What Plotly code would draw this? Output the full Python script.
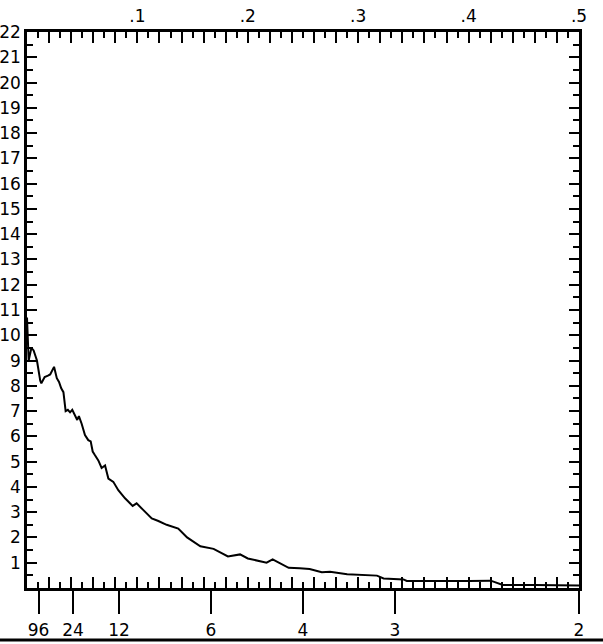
import plotly.graph_objects as go

# Spectrum estimate: frequency (cycles per unit) vs spectral density
freq = [0.000, 0.0015, 0.004, 0.006, 0.009, 0.010, 0.012, 0.013, 0.016, 0.019,
        0.021, 0.0245, 0.027, 0.029, 0.031, 0.033, 0.035, 0.037, 0.039, 0.041,
        0.0435, 0.0455, 0.047, 0.0495, 0.0525, 0.0555, 0.0577, 0.0595, 0.0616,
        0.0646, 0.0676, 0.0707, 0.0737, 0.0782, 0.0827, 0.0888, 0.0957, 0.0993,
        0.105, 0.113, 0.119, 0.1265, 0.137, 0.145, 0.157, 0.169, 0.182, 0.193,
        0.200, 0.208, 0.217, 0.2225, 0.229, 0.237, 0.247, 0.256, 0.267, 0.2745,
        0.290, 0.317, 0.323, 0.341, 0.344, 0.365, 0.400, 0.420, 0.423, 0.431,
        0.460, 0.500]
spec = [10.7, 9.0, 9.5, 9.4, 9.0, 8.7, 8.2, 8.1, 8.35, 8.4,
        8.45, 8.75, 8.3, 8.15, 7.9, 7.75, 7.0, 7.05, 6.95, 7.05,
        6.85, 6.65, 6.8, 6.5, 6.05, 5.85, 5.8, 5.4, 5.25,
        5.05, 4.75, 4.85, 4.33, 4.2, 3.87, 3.55, 3.25, 3.35,
        3.1, 2.75, 2.65, 2.5, 2.35, 2.0, 1.65, 1.55, 1.25, 1.33,
        1.17, 1.1, 1.0, 1.13, 0.97, 0.8, 0.78, 0.75, 0.62, 0.64,
        0.54, 0.49, 0.38, 0.34, 0.28, 0.27, 0.28, 0.29, 0.25, 0.12,
        0.12, 0.10]

# Bottom axis: periods
periods = [96, 24, 12, 6, 4, 3, 2]
period_labels = ["96", "24", "12", "6", "4", "3", "2"]

# Top axis: frequency labels
top_labels = {0.1: ".1", 0.2: ".2", 0.3: ".3", 0.4: ".4", 0.5: ".5"}

# Left axis labels
y_labels = [str(i) if i > 0 else "" for i in range(0, 23)]

top_vals = [round(0.02 * k, 2) for k in range(0, 26)]
top_text = [top_labels.get(v, "") for v in top_vals]

font = dict(family="DejaVu Sans", size=17, color="black")

fig = go.Figure()
fig.add_trace(go.Scatter(x=freq, y=spec, mode="lines",
                         line=dict(color="black", width=2),
                         showlegend=False, hoverinfo="skip"))
# invisible traces to activate overlay axes
fig.add_trace(go.Scatter(x=[0], y=[0], xaxis="x2", yaxis="y2", mode="markers",
                         marker=dict(opacity=0), showlegend=False, hoverinfo="skip"))
fig.add_trace(go.Scatter(x=[0], y=[0], xaxis="x3", yaxis="y", mode="markers",
                         marker=dict(opacity=0), showlegend=False, hoverinfo="skip"))

tick_common = dict(tickwidth=1.5, tickcolor="black", showgrid=False,
                   zeroline=False, automargin=False)

fig.update_layout(
    width=603, height=644,
    margin=dict(l=27, r=24, t=32, b=56),
    plot_bgcolor="white", paper_bgcolor="white",
    font=font,
    xaxis=dict(range=[0, 0.5], side="bottom",
               tickvals=[1.0 / p for p in periods], ticktext=period_labels,
               ticks="outside", ticklen=23, ticklabelstandoff=2,
               showline=True, linewidth=2.5, linecolor="black",
               tickfont=font, **tick_common),
    xaxis3=dict(range=[0, 0.5], side="bottom", overlaying="x",
                tickvals=top_vals, showticklabels=False,
                ticks="inside", ticklen=11,
                minor=dict(dtick=0.01, tick0=0, ticks="inside", ticklen=6,
                           tickwidth=1.5, tickcolor="black"),
                showline=False, **tick_common),
    xaxis2=dict(range=[0, 0.5], side="top", overlaying="x",
                tickvals=top_vals, ticktext=top_text,
                ticks="inside", ticklen=11,
                minor=dict(dtick=0.01, tick0=0, ticks="inside", ticklen=6,
                           tickwidth=1.5, tickcolor="black"),
                showline=True, linewidth=2.5, linecolor="black",
                tickfont=font, **tick_common),
    yaxis=dict(range=[0, 22], tickvals=list(range(0, 23)), ticktext=y_labels,
               ticks="inside", ticklen=10,
               minor=dict(dtick=0.5, tick0=0, ticks="inside", ticklen=6,
                          tickwidth=1.5, tickcolor="black"),
               showline=True, linewidth=2.5, linecolor="black",
               tickfont=font, **tick_common),
    yaxis2=dict(range=[0, 22], side="right", overlaying="y",
                tickvals=list(range(0, 23)), showticklabels=False,
                ticks="inside", ticklen=10,
                minor=dict(dtick=0.5, tick0=0, ticks="inside", ticklen=6,
                           tickwidth=1.5, tickcolor="black"),
                showline=True, linewidth=2.5, linecolor="black",
                **tick_common),
)

# page rule at the bottom of the scan
fig.add_shape(type="line", xref="paper", yref="paper",
              x0=-0.05, x1=1.05, y0=-0.0935, y1=-0.0935,
              line=dict(color="black", width=3))

fig.write_html("out.html")
